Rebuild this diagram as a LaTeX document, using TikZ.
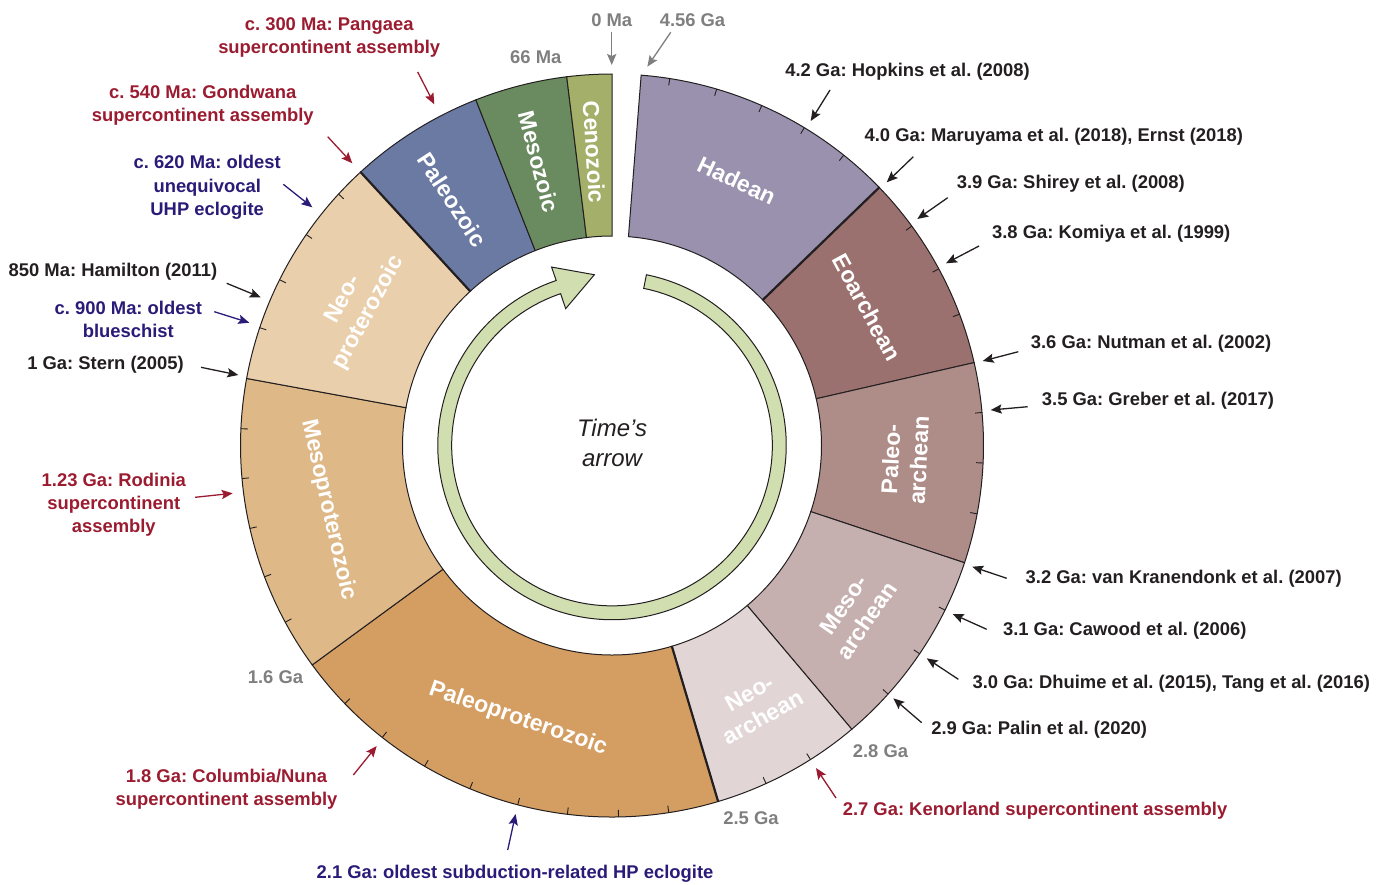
\documentclass[tikz,border=0pt]{standalone}
\usepackage{fontspec}
\setmainfont{Liberation Sans}
\usetikzlibrary{calc}
\usetikzlibrary{arrows.meta}
\frenchspacing

\definecolor{hadean}{HTML}{9991AD}
\definecolor{eoarch}{HTML}{9A716F}
\definecolor{paleoarch}{HTML}{AE8D89}
\definecolor{mesoarch}{HTML}{C6B0AF}
\definecolor{neoarch}{HTML}{E1D6D5}
\definecolor{paleoprot}{HTML}{D49E63}
\definecolor{mesoprot}{HTML}{DEB887}
\definecolor{neoprot}{HTML}{EACFAC}
\definecolor{paleoz}{HTML}{6B7AA3}
\definecolor{mesoz}{HTML}{6A8A60}
\definecolor{cenoz}{HTML}{A4B06A}
\definecolor{timearrow}{HTML}{D0DEB0}
\definecolor{txtblack}{HTML}{231F20}
\definecolor{supred}{HTML}{9B1B30}
\definecolor{subblue}{HTML}{2B1B78}
\definecolor{agegray}{HTML}{7F7F7F}

\tikzset{
  era/.style={draw=txtblack, line width=.5pt},
  eraname/.style={text=white, font=\bfseries\fontsize{11.5}{14}\selectfont, align=center, inner sep=0pt},
  note/.style={font=\bfseries\fontsize{9.2}{11.6}\selectfont, align=center, inner sep=0pt},
  pointer/.style={-{Stealth[length=5.5pt,width=4.6pt,inset=1pt]}, line width=.65pt},
}

\begin{document}
\begin{tikzpicture}[x=.5pt, y=-.5pt]
\useasboundingbox (0,0) rectangle (1384,884);
\def\ri{209.5}
\def\ro{371.5}

\begin{scope}[shift={(612,445.5)}]
% angles clockwise from 12 o'clock
\foreach \a/\b/\col in {4.5/46.0/hadean, 46.0/77.1/eoarch, 77.1/108.4/paleoarch,
  108.4/139.8/mesoarch, 139.8/163.4/neoarch, 163.4/233.8/paleoprot, 233.8/280.4/mesoprot,
  280.4/317.4/neoprot, 317.4/338.5/paleoz, 338.5/353.0/mesoz, 353.0/360/cenoz} {
  \pgfmathsetmacro\sa{\a-90}
  \pgfmathsetmacro\sb{\b-90}
  \filldraw[era, fill=\col] (\sa:\ri) -- (\sa:\ro) arc[start angle=\sa, end angle=\sb, radius=\ro]
    -- (\sb:\ri) arc[start angle=\sb, end angle=\sa, radius=\ri] -- cycle;
}
\foreach \t in {46.0,163.4,317.4}
  \draw[txtblack, line width=1.1pt] (\t-90:\ri) -- (\t-90:\ro);
\foreach \t in {8.95,16.36,23.77,31.18,38.59,53.8,61.6,69.3,84.9,92.7,100.6,116.3,124.1,132.0,
  147.7,155.5,171.2,179.0,186.9,194.7,202.5,210.3,218.2,226.0,241.6,249.3,257.1,264.9,272.6,
  288.5,296.5,304.6,312.6}
  \draw[txtblack, line width=.45pt] (\t-90:\ro) -- (\t-90:\ro-7);

\node[eraname, rotate=-25.2] (had) at (25.2-90:293) {Hadean};
\node[eraname, rotate=-61.6] (eoa) at (61.6-90:290) {Eoarchean};
\node[eraname, rotate=87.2] (pal) at (92.8-90:293) {Paleo-\\archean};
\node[eraname, rotate=55.5] (mes) at (124.5-90:295) {Meso-\\archean};
\node[eraname, rotate=29] (neo) at (151-90:297) {Neo-\\archean};
\node[eraname, rotate=-19] (ppr) at (199-90:289) {Paleoproterozoic};
\node[eraname, rotate=-77.2] (mpr) at (257.2-90:291) {Mesoproterozoic};
\node[eraname, rotate=61.4] (npr) at (298.6-90:291) {Neo-\\proterozoic};
\node[eraname, rotate=-57] (pzo) at (327-90:293) {Paleozoic};
\node[eraname, rotate=-75.5] (mzo) at (345.5-90:293) {Mesozoic};
\node[eraname, rotate=-86.5] (czo) at (356.5-90:294) {Cenozoic};

\filldraw[fill=timearrow, draw=txtblack, line width=.5pt]
  (-78.6:174.2) arc[start angle=-78.6, end angle=251.3, radius=174.2]
  -- (251.3:188.4) -- (264.1:171.7) -- (251.3:144.5) -- (251.3:160.3)
  arc[start angle=251.3, end angle=-78.6, radius=160.3] -- cycle;
\node[font=\itshape\fontsize{12}{15}\selectfont, align=center, text=txtblack] (timesarrow) at (0,-3) {Time’s\\arrow};
\end{scope}

\node[note, text=agegray] (g0) at (611.7,20) {0 Ma};
\node[note, text=agegray] (g456) at (692.5,20) {4.56 Ga};
\node[note, text=agegray] (g66) at (535.8,56.7) {66 Ma};
\node[note, text=agegray] (g16) at (275.5,676.7) {1.6 Ga};
\node[note, text=agegray] (g25) at (751,818) {2.5 Ga};
\node[note, text=agegray] (g28) at (880.5,751) {2.8 Ga};

\node[note, text=txtblack] (h42) at (907.5,71.7) {4.2 Ga: Hopkins et al. (2008)};
\node[note, text=txtblack] (h40) at (1053.8,136.7) {4.0 Ga: Maruyama et al. (2018), Ernst (2018)};
\node[note, text=txtblack] (h39) at (1070.8,183.3) {3.9 Ga: Shirey et al. (2008)};
\node[note, text=txtblack] (h38) at (1111.2,233.3) {3.8 Ga: Komiya et al. (1999)};
\node[note, text=txtblack] (h36) at (1151,343.3) {3.6 Ga: Nutman et al. (2002)};
\node[note, text=txtblack] (h35) at (1158,400.5) {3.5 Ga: Greber et al. (2017)};
\node[note, text=txtblack] (h32) at (1183.7,578.3) {3.2 Ga: van Kranendonk et al. (2007)};
\node[note, text=txtblack] (h31) at (1124.7,630.5) {3.1 Ga: Cawood et al. (2006)};
\node[note, text=txtblack] (h30) at (1171.3,683.3) {3.0 Ga: Dhuime et al. (2015), Tang et al. (2016)};
\node[note, text=txtblack] (h29) at (1039.2,729.3) {2.9 Ga: Palin et al. (2020)};
\node[note, text=txtblack] (h085) at (113,271.7) {850 Ma: Hamilton (2011)};
\node[note, text=txtblack] (h10) at (105.5,364.3) {1 Ga: Stern (2005)};

\node[note, text=supred] (r03) at (329.2,37.7) {c. 300 Ma: Pangaea\\supercontinent assembly};
\node[note, text=supred] (r054) at (202.8,105.5) {c. 540 Ma: Gondwana\\supercontinent assembly};
\node[note, text=supred] (r123) at (113.8,505) {1.23 Ga: Rodinia\\supercontinent\\assembly};
\node[note, text=supred] (r18) at (226.5,789) {1.8 Ga: Columbia/Nuna\\supercontinent assembly};
\node[note, text=supred] (r27) at (1035,811) {2.7 Ga: Kenorland supercontinent assembly};

\node[note, text=subblue] (b062) at (207.2,187.3) {c. 620 Ma: oldest\\unequivocal\\UHP eclogite};
\node[note, text=subblue] (b09) at (128.3,319.7) {c. 900 Ma: oldest\\blueschist};
\node[note, text=subblue] (b21) at (515,874) {2.1 Ga: oldest subduction-related HP eclogite};

\foreach \n/\col/\ax/\ay/\bx/\by in {g0/agegray/611.7/31.7/611.7/65, g456/agegray/670.7/32.3/647.3/66.7,
  h42/txtblack/830/90/810.7/121, h40/txtblack/913.3/156.7/886.7/182.3,
  h39/txtblack/947.7/197.7/917.3/219, h38/txtblack/979/246/946/263.3,
  h36/txtblack/1018.3/351.7/982.7/361, h35/txtblack/1027.7/406.7/990.7/410,
  h32/txtblack/1006.7/578.3/972.3/566.7, h31/txtblack/986.7/629.3/952.7/614,
  h30/txtblack/958.3/679.3/926.7/658.3, h29/txtblack/921.7/722.7/893.3/698.3,
  h085/txtblack/226.7/283.3/260.7/297.3, h10/txtblack/201/367.3/238.3/375,
  r03/supred/417.7/72/434.3/104.3, r054/supred/327.7/136.7/352.3/163.3,
  r123/supred/195/497.3/232.7/493.3, r18/supred/353.3/775/376.7/746,
  r27/supred/836/798/816/768, b062/subblue/283.3/184.3/312.3/207.3,
  b09/subblue/214.3/311.7/249.3/322.7, b21/subblue/507.7/850/515.6/814} {
  \coordinate (\n-from) at (\ax,\ay);
  \coordinate (\n-to) at (\bx,\by);
  \draw[pointer, \col] (\n-from) -- (\n-to);
}
\end{tikzpicture}
\end{document}
